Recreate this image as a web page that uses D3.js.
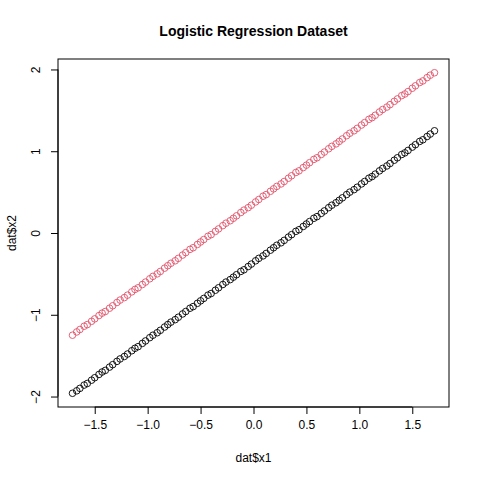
<!DOCTYPE html>
<html>
<head>
<meta charset="utf-8">
<script src="https://cdn.jsdelivr.net/npm/d3@7"></script>
<style>
  body { margin: 0; background: #fff; }
  text { font-family: "Liberation Sans", Arial, sans-serif; }
</style>
</head>
<body>
<svg width="480" height="480"></svg>
<script>
const x1 = [-1.71,-1.67,-1.64,-1.60,-1.57,-1.53,-1.50,-1.46,-1.43,-1.40,
  -1.36,-1.33,-1.29,-1.26,-1.22,-1.19,-1.15,-1.12,-1.09,-1.05,
  -1.02,-0.98,-0.95,-0.91,-0.88,-0.84,-0.81,-0.78,-0.74,-0.71,
  -0.67,-0.64,-0.60,-0.57,-0.53,-0.50,-0.47,-0.43,-0.40,-0.36,
  -0.33,-0.29,-0.26,-0.22,-0.19,-0.16,-0.12,-0.09,-0.05,-0.02,
  0.02,0.05,0.09,0.12,0.16,0.19,0.22,0.26,0.29,0.33,
  0.36,0.40,0.43,0.47,0.50,0.53,0.57,0.60,0.64,0.67,
  0.71,0.74,0.78,0.81,0.84,0.88,0.91,0.95,0.98,1.02,
  1.05,1.09,1.12,1.15,1.19,1.22,1.26,1.29,1.33,1.36,
  1.40,1.43,1.46,1.50,1.53,1.57,1.60,1.64,1.67,1.71];

const redY = [-1.25,-1.21,-1.18,-1.14,-1.12,-1.08,-1.05,-1.01,-0.98,-0.96,
  -0.92,-0.89,-0.85,-0.82,-0.79,-0.76,-0.72,-0.69,-0.67,-0.63,
  -0.60,-0.56,-0.53,-0.50,-0.47,-0.43,-0.40,-0.37,-0.34,-0.31,
  -0.27,-0.24,-0.20,-0.18,-0.14,-0.11,-0.08,-0.04,-0.02,0.02,
  0.05,0.09,0.12,0.15,0.18,0.21,0.25,0.28,0.31,0.34,
  0.38,0.41,0.45,0.47,0.51,0.54,0.57,0.60,0.63,0.67,
  0.70,0.74,0.76,0.80,0.83,0.86,0.90,0.92,0.96,0.99,
  1.03,1.06,1.09,1.12,1.15,1.19,1.22,1.25,1.28,1.32,
  1.35,1.39,1.41,1.44,1.48,1.51,1.54,1.57,1.61,1.64,
  1.68,1.70,1.73,1.77,1.80,1.84,1.86,1.90,1.93,1.96];

const blackY = [-1.96,-1.93,-1.90,-1.86,-1.84,-1.80,-1.77,-1.73,-1.70,-1.68,
  -1.64,-1.61,-1.57,-1.54,-1.51,-1.48,-1.44,-1.41,-1.39,-1.35,
  -1.32,-1.28,-1.25,-1.22,-1.19,-1.15,-1.12,-1.09,-1.06,-1.03,
  -0.99,-0.96,-0.92,-0.90,-0.86,-0.83,-0.80,-0.76,-0.74,-0.70,
  -0.67,-0.63,-0.60,-0.57,-0.54,-0.51,-0.47,-0.45,-0.41,-0.38,
  -0.34,-0.31,-0.28,-0.25,-0.21,-0.18,-0.15,-0.12,-0.09,-0.05,
  -0.02,0.02,0.04,0.08,0.11,0.14,0.18,0.20,0.24,0.27,
  0.31,0.34,0.37,0.40,0.43,0.47,0.50,0.53,0.56,0.60,
  0.63,0.67,0.69,0.72,0.76,0.79,0.82,0.85,0.89,0.92,
  0.96,0.98,1.01,1.05,1.08,1.12,1.14,1.18,1.21,1.25];

const xTicks = [-1.5, -1.0, -0.5, 0.0, 0.5, 1.0, 1.5];
const yTicks = [-2, -1, 0, 1, 2];

const svg = d3.select("svg");
const pLeft = 58, pRight = 449, pTop = 59, pBottom = 407;

const x = d3.scaleLinear().domain([-1.847, 1.847]).range([pLeft, pRight]);
const y = d3.scaleLinear().domain([-2.128, 2.128]).range([pBottom, pTop]);

svg.append("rect")
  .attr("x", pLeft).attr("y", pTop)
  .attr("width", pRight - pLeft).attr("height", pBottom - pTop)
  .attr("fill", "none").attr("stroke", "#000");

const xAxis = svg.append("g")
  .attr("transform", `translate(0,${pBottom})`)
  .call(d3.axisBottom(x).tickValues(xTicks).tickSize(7).tickPadding(6).tickFormat(d3.format(".1f")));
xAxis.select(".domain").attr("d", `M${x(-1.5)},0H${x(1.5)}`);
xAxis.selectAll("text").attr("font-size", 12).attr("fill", "#000")
  .attr("font-family", "Liberation Sans, Arial, sans-serif");

const yAxis = svg.append("g")
  .attr("transform", `translate(${pLeft},0)`)
  .call(d3.axisLeft(y).tickValues(yTicks).tickSize(7).tickFormat(d3.format("d")));
yAxis.select(".domain").attr("d", `M0,${y(-2)}V${y(2)}`);
yAxis.selectAll("text")
  .attr("font-size", 12).attr("fill", "#000")
  .attr("font-family", "Liberation Sans, Arial, sans-serif")
  .attr("x", null).attr("dy", null)
  .attr("text-anchor", "middle")
  .attr("transform", "translate(-18,0) rotate(-90)");

const plot = svg.append("g");
plot.selectAll("circle.blk")
  .data(x1.map((v, i) => [v, blackY[i]]))
  .join("circle").attr("class", "blk")
  .attr("cx", d => x(d[0])).attr("cy", d => y(d[1]))
  .attr("r", 3.3).attr("fill", "none").attr("stroke", "#000").attr("stroke-width", 0.9);
plot.selectAll("circle.red")
  .data(x1.map((v, i) => [v, redY[i]]))
  .join("circle").attr("class", "red")
  .attr("cx", d => x(d[0])).attr("cy", d => y(d[1]))
  .attr("r", 3.3).attr("fill", "none").attr("stroke", "#DF536B").attr("stroke-width", 0.9);

svg.append("text").attr("x", (pLeft + pRight) / 2).attr("y", 36)
  .attr("text-anchor", "middle").attr("font-size", 14).attr("font-weight", "bold")
  .text("Logistic Regression Dataset");
svg.append("text").attr("x", (pLeft + pRight) / 2).attr("y", 462)
  .attr("text-anchor", "middle").attr("font-size", 12).text("dat$x1");
svg.append("text").attr("transform", `translate(16,${(pTop + pBottom) / 2}) rotate(-90)`)
  .attr("text-anchor", "middle").attr("font-size", 12).text("dat$x2");
</script>
</body>
</html>
